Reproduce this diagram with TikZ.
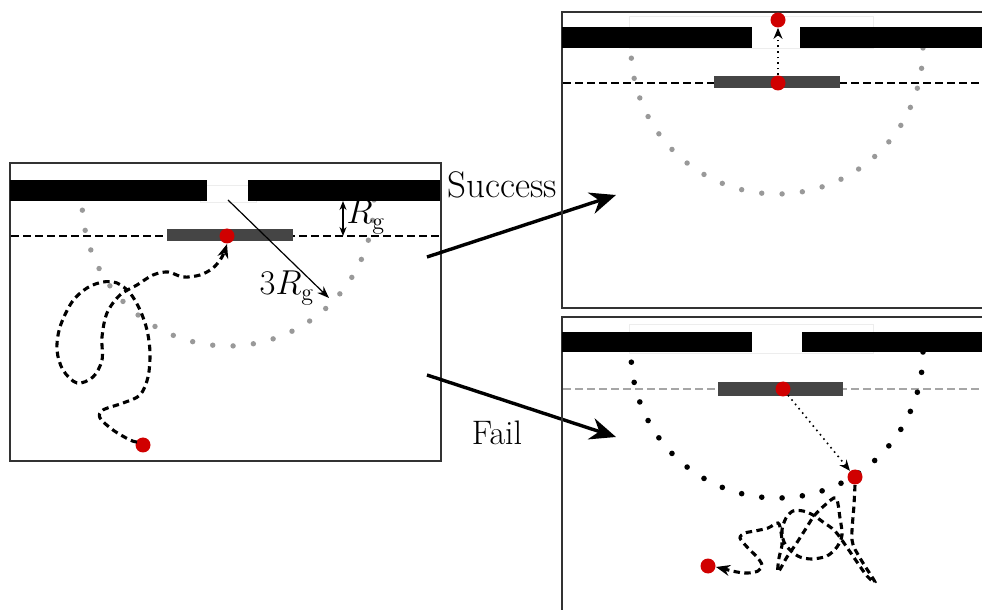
\documentclass[tikz,border=0pt]{standalone}
\usetikzlibrary{arrows.meta}
\definecolor{dotred}{HTML}{D00000}
\definecolor{slabgray}{HTML}{454545}
\begin{document}
\begin{tikzpicture}[x=0.5pt,y=-0.5pt,
  panel/.style={draw=black!80, line width=1pt},
  wall/.style={fill=black},
  slab/.style={fill=slabgray},
  ghost/.style={draw=black!7, line width=0.4pt},
  rdot/.style={circle, fill=dotred, inner sep=0pt, minimum size=7.5pt},
  walk/.style={line width=1.55pt, dash pattern=on 3.2pt off 2.2pt},
  surface/.style={line width=1.4pt, dash pattern=on 4pt off 2pt},
  bigarrow/.style={line width=1.7pt, -{Stealth[length=13pt,width=11pt]}},
  hop/.style={line width=0.8pt, dotted, -{Stealth[length=5.5pt,width=4.5pt]}},
  walktip/.style={-{Stealth[length=7pt,width=5.5pt]}},
  thin/.style={line width=0.6pt},
  lbl/.style={font=\fontsize{17}{20}\selectfont, inner sep=0pt},
  biglbl/.style={font=\fontsize{18.5}{22}\selectfont, inner sep=0pt},
]
\useasboundingbox (0,0) rectangle (982,610);
\clip (0,0) rectangle (982,610);

% ---------- initial configuration ----------
\draw[panel] (10,163) rectangle (441,461);
\draw[ghost] (200,185) rectangle (256,202);
\draw[surface] (11,236) -- (440,236);
\foreach \a in {0,8,...,176}
  \fill[black!40] ({228+146*cos(\a)},{200+146*sin(\a)}) circle[radius=2.7];
\fill[wall] (10,180) rectangle (207,201);
\fill[wall] (248,180) rectangle (440,201);
\fill[slab] (167,229) rectangle (293,241);
\node[rdot] (a0) at (143,445) {};
\node[rdot] (a1) at (227,236) {};
\draw[walk,walktip] plot[smooth, tension=0.55] coordinates {
  (137,442) (130,440) (113,430) (100,418) (103,410) (123,403) (140,395)
  (148,377) (150,353) (147,330) (140,310) (130,293) (117,283) (103,282)
  (87,288) (72,302) (60,327) (57,350) (63,370) (77,383) (93,377) (102,360)
  (102,337) (107,313) (120,295) (137,285) (153,275) (168,272) (183,277)
  (200,275) (213,268) (222,257) (227,244)};
\coordinate (gapc) at (228,200);
\coordinate (rtip) at (329,298);
\draw[thin,-{Stealth[length=6pt,width=4.5pt]}] (gapc) -- (rtip);
\coordinate (rgtop) at (343,201);
\coordinate (rgbot) at (343,236);
\draw[thin,{Stealth[length=4.5pt,width=3.5pt]}-{Stealth[length=4.5pt,width=3.5pt]}] (rgtop) -- (rgbot);
\node[lbl] (rg) at (366,217) {$R_{\mathrm{g}}$};
\node[lbl] (rg3) at (287,288) {$3R_{\mathrm{g}}$};

% ---------- outcome arrows ----------
\coordinate (s0) at (427,257);
\coordinate (s1) at (616,195);
\coordinate (f0) at (427,375);
\coordinate (f1) at (616,437);
\draw[bigarrow] (s0) -- (s1);
\draw[bigarrow] (f0) -- (f1);
\node[biglbl] (succ) at (502,185) {Success};
\node[lbl] (fail) at (497,433) {Fail};

% ---------- success ----------
\draw[panel] (562,12) rectangle (995,308);
\draw[ghost] (629,16) rectangle (873,48);
\draw[surface] (563,83) -- (982,83);
\foreach \a in {0,8,...,176}
  \fill[black!40] ({777+146*cos(\a)},{48+146*sin(\a)}) circle[radius=2.7];
\fill[wall] (562,27) rectangle (752,48);
\fill[wall] (800,27) rectangle (982,48);
\fill[slab] (714,76) rectangle (840,88);
\node[rdot] (b0) at (778,83) {};
\node[rdot] (b1) at (778,20) {};
\draw[hop] (b0) -- (b1);

% ---------- failure ----------
\draw[panel] (562,317) rectangle (995,620);
\draw[ghost] (629,324) rectangle (873,353);
\draw[surface,black!35] (563,389) -- (982,389);
\foreach \a in {0,8,...,176}
  \fill[black] ({777+146*cos(\a)},{352+146*sin(\a)}) circle[radius=2.8];
\fill[wall] (562,332) rectangle (752,352);
\fill[wall] (802,332) rectangle (982,352);
\fill[slab] (718,382) rectangle (843,396);
\node[rdot] (c0) at (783,389) {};
\node[rdot] (c1) at (855,477) {};
\node[rdot] (c2) at (708,566) {};
\draw[hop] (c0) -- (c1);
\draw[walk,walktip] plot[smooth, tension=0.5] coordinates {
  (855,485) (854,505) (852,540) (860,558) (875,582) (867,576) (857,562)
  (846,546) (835,531) (823,522) (813,515) (803,511) (793,511) (786,518)
  (782,530) (784,542) (791,551) (800,557) (812,559) (827,556) (837,547)
  (842,535) (840,518) (836,498) (825,505) (814,516) (805,530) (796,544)
  (787,557) (778,572) (779,558) (782,545) (781,532) (778,523) (768,528)
  (755,531) (745,533) (740,538) (748,548) (757,557) (762,565) (758,571)
  (748,573) (737,572) (716,567)};
\end{tikzpicture}
\end{document}
